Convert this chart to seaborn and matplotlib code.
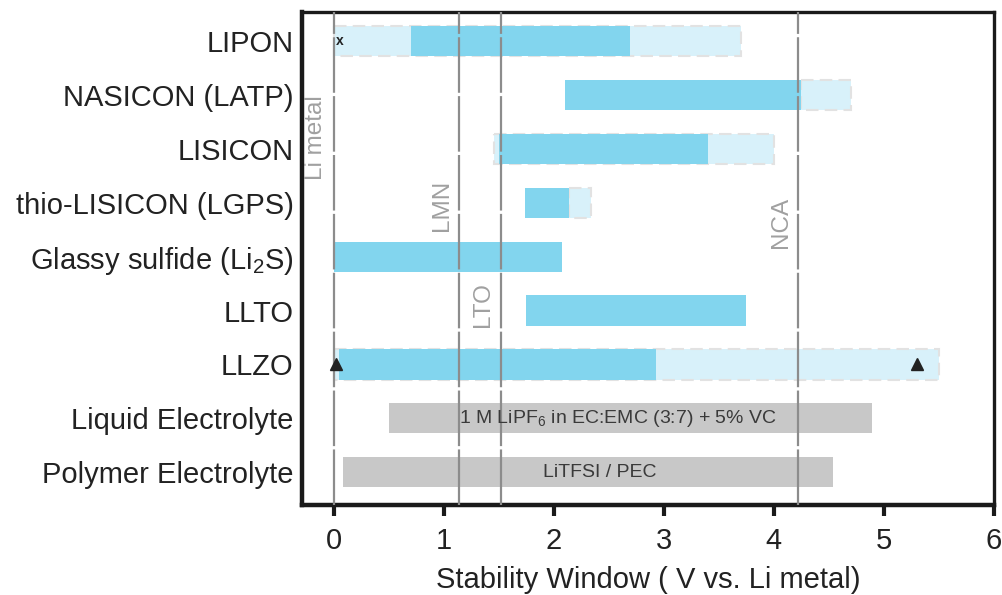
import matplotlib
matplotlib.use("Agg")
import matplotlib.pyplot as plt
import seaborn as sns
import numpy as np

sns.set_theme(style="white")
plt.rcParams['font.family'] = ['Liberation Sans', 'DejaVu Sans']
plt.rcParams['mathtext.fontset'] = 'custom'
plt.rcParams['mathtext.rm'] = 'Liberation Sans'
plt.rcParams['mathtext.it'] = 'Liberation Sans:italic'

categories = ["LIPON", "NASICON (LATP)", "LISICON", "thio-LISICON (LGPS)",
              "Glassy sulfide (Li$\\mathregular{_2}$S)", "LLTO", "LLZO",
              "Liquid Electrolyte", "Polymer Electrolyte"]
# extended (light) stability ranges: start, end  (None = no light bar)
light_start = [0.0, 4.25, 1.46, 2.14, None, None, 0.0, None, None]
light_end = [3.70, 4.70, 4.00, 2.34, None, None, 5.50, None, None]
# core (dark) stability ranges
dark_start = [0.70, 2.10, 1.50, 1.74, 0.0, 1.75, 0.05, None, None]
dark_end = [2.69, 4.25, 3.40, 2.14, 2.07, 3.75, 2.93, None, None]
# electrolyte (gray) ranges
gray_start = [None] * 7 + [0.50, 0.08]
gray_end = [None] * 7 + [4.89, 4.54]
gray_text = ["1 M LiPF$\\mathregular{_6}$ in EC:EMC (3:7) + 5% VC", "LiTFSI / PEC"]
gray_text_x = [2.58, 2.42]
# electrode reference potentials
ref_names = ["Li metal", "LMN", "LTO", "NCA"]
ref_pos = [0.0, 1.14, 1.52, 4.22]
ref_label_y = [1.79, 3.04, 4.88, 3.36]
# markers
triangle_x = [0.02, 5.30]
triangle_row = 6
x_marker_x = 0.05
x_ticks = [0, 1, 2, 3, 4, 5, 6]

DARK = "#82d5ee"
LIGHT = "#d8f1fa"
GRAY = "#c8c8c8"
LINE = "#8c8c8c"

fig = plt.figure(figsize=(10.03, 5.95), dpi=100)
ax = fig.add_axes([0.301, 0.151, 0.690, 0.829])

h = 0.56
y = np.arange(len(categories))

for i in range(len(categories)):
    if light_start[i] is not None:
        ax.barh(y[i], light_end[i] - light_start[i], left=light_start[i], height=h,
                color=LIGHT, edgecolor="#e2e2e2", linewidth=1.5, linestyle=(0, (6, 3)), zorder=2)
    if dark_start[i] is not None:
        ax.barh(y[i], dark_end[i] - dark_start[i], left=dark_start[i], height=h,
                color=DARK, edgecolor="none", zorder=3)
    if gray_start[i] is not None:
        ax.barh(y[i], gray_end[i] - gray_start[i], left=gray_start[i], height=h,
                color=GRAY, edgecolor="none", zorder=1)

for j, (tx, t) in enumerate(zip(gray_text_x, gray_text)):
    ax.text(tx, 7 + j, t, ha="center", va="center", fontsize=14, color="#3a3a3a", zorder=5)

for name, xp, ly in zip(ref_names, ref_pos, ref_label_y):
    ax.axvline(xp, color=LINE, linewidth=1.6, linestyle=(0, (25, 1.5)), zorder=4)
    ax.text(xp - 0.06, ly, name, rotation=90, ha="right", va="center",
            fontsize=17.5, color="#a0a0a0", zorder=5)

ax.plot(triangle_x, [triangle_row] * len(triangle_x), linestyle="none", marker="^",
        color="#222222", markersize=8, zorder=6)
ax.text(x_marker_x, 0, "x", ha="center", va="center", fontsize=10, fontweight="bold",
        color="#222222", zorder=6)

ax.set_xlim(-0.29, 6.0)
ax.set_ylim(8.61, -0.54)
ax.set_yticks(y)
ax.set_yticklabels(categories, fontsize=21, color="#222222")
ax.set_xticks(x_ticks)
ax.set_xticklabels([str(v) for v in x_ticks], fontsize=21, color="#222222")
ax.set_xlabel("Stability Window ( V vs. Li metal)", fontsize=21, color="#222222", labelpad=8)

for side in ["left", "bottom"]:
    ax.spines[side].set_linewidth(3.2)
    ax.spines[side].set_color("#1a1a1a")
for side in ["top", "right"]:
    ax.spines[side].set_linewidth(2.4)
    ax.spines[side].set_color("#1a1a1a")
ax.spines["right"].set_visible(True)
ax.spines["top"].set_visible(True)

ax.tick_params(axis="x", direction="out", length=8, width=3, color="#1a1a1a", pad=8, bottom=True)
ax.tick_params(axis="y", length=0, pad=6)

fig.savefig("out.png", dpi=100)
